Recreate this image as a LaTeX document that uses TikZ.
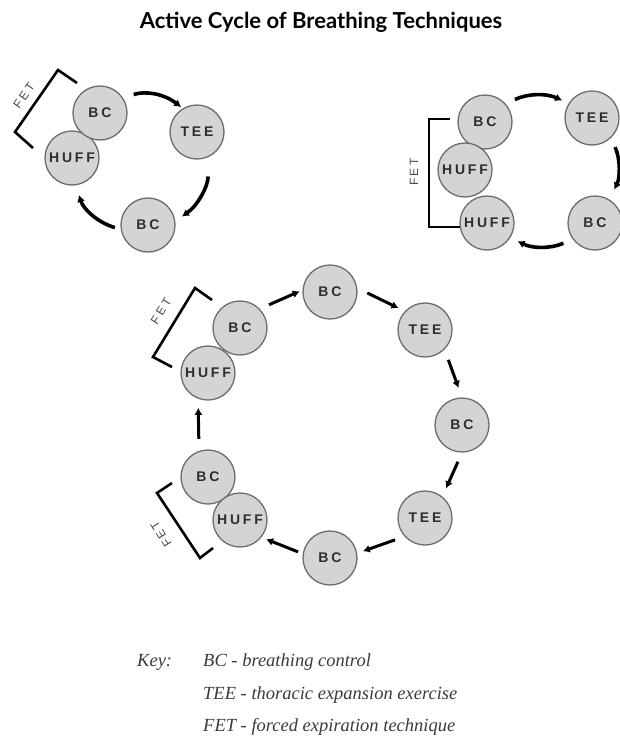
\documentclass[tikz,border=0pt]{standalone}
\usepackage{fontspec}
\setmainfont{Liberation Serif}
\newfontfamily\titlefont{Lato}
\newfontfamily\stagefont{Liberation Sans}[LetterSpace=20]
\newfontfamily\fetfont{Liberation Sans}[LetterSpace=22]
\usetikzlibrary{arrows.meta}

\definecolor{discgray}{HTML}{D4D4D4}
\definecolor{ringgray}{HTML}{6C6C6C}
\definecolor{labelgray}{HTML}{2E2E2E}
\definecolor{fetgray}{HTML}{4A4A4A}
\definecolor{keygray}{HTML}{3A3A3A}

\tikzset{
  stage/.style={circle, draw=ringgray, line width=1.3pt, fill=discgray,
    minimum size=54pt, inner sep=0pt, text=labelgray,
    font=\stagefont\bfseries\fontsize{14}{14}\selectfont},
  flow/.style={line width=3pt, -{Latex[length=7pt,width=8pt]}},
  curvedflow/.style={line width=3.6pt, -{Latex[length=7pt,width=8pt]}},
  fetbracket/.style={line width=2.6pt, line join=miter},
  fetlabel/.style={text=fetgray, inner sep=0pt,
    font=\fetfont\fontsize{12}{12}\selectfont},
  keytext/.style={text=keygray, inner sep=0pt, anchor=base west,
    font=\itshape\fontsize{18.5}{18.5}\selectfont}
}

\begin{document}
\begin{tikzpicture}[x=1pt, y=1pt]
\useasboundingbox (0,0) rectangle (620,-742);

% title
\node[anchor=base, inner sep=0pt, text=black,
      font=\titlefont\bfseries\fontsize{22}{22}\selectfont]
  (title) at (321,-28) {Active Cycle of Breathing Techniques};

% ---- short cycle, upper left ----
\node[stage] (huffA) at (72,-158) {HUFF};
\node[stage] (bcA)   at (100,-113) {BC};
\node[stage] (teeA)  at (197,-132) {TEE};
\node[stage] (bcB)   at (148,-225) {BC};

\draw[curvedflow, shorten <=11pt, shorten >=2pt]
  (bcA.33) to[bend left=28] (teeA.121);
\draw[curvedflow, shorten <=19pt, shorten >=8pt]
  (teeA.-67) to[bend left=28] (bcB.8);
\draw[curvedflow, shorten <=6pt, shorten >=10pt]
  (bcB.-171) to[bend left=28] (huffA.-82);

\draw[fetbracket] (77,-83) -- (58,-70) -- (15,-132) -- (33,-148);
\node[fetlabel, rotate=55] (fetA) at (24,-96) {FET};

% ---- cycle with two huffs, upper right ----
\node[stage] (bcC)   at (485,-122) {BC};
\node[stage] (huffC) at (465,-170) {HUFF};
\node[stage] (huffD) at (487,-223) {HUFF};
\node[stage] (teeC)  at (592,-118) {TEE};
\node[stage] (bcD)   at (595,-223) {BC};

\draw[curvedflow, shorten <=10pt, shorten >=7pt]
  (bcC.41) to[bend left=25] (teeC.148);
\draw[curvedflow, shorten <=10pt, shorten >=11pt]
  (teeC.-46) to[bend left=25] (bcD.59);
\draw[curvedflow, shorten <=10pt, shorten >=8pt]
  (bcD.-144) to[bend left=25] (huffD.-32);

\draw[fetbracket] (450,-119) -- (429,-119) -- (429,-227) -- (460,-227);
\node[fetlabel, rotate=90] (fetC) at (414,-172) {FET};

% ---- long cycle ----
\node[stage] (bc1)   at (330,-292) {BC};
\node[stage] (tee1)  at (425,-330) {TEE};
\node[stage] (bc2)   at (462,-425) {BC};
\node[stage] (tee2)  at (425,-518) {TEE};
\node[stage] (bc3)   at (330,-558) {BC};
\node[stage] (bc4)   at (208,-477) {BC};
\node[stage] (huff1) at (240,-520) {HUFF};
\node[stage] (huff2) at (208,-373) {HUFF};
\node[stage] (bc5)   at (240,-328) {BC};

\draw[flow, shorten <=10pt, shorten >=3pt]  (bc5.44)   -- (bc1.176);
\draw[flow, shorten <=11pt, shorten >=7pt]  (bc1.8)    -- (tee1.137);
\draw[flow, shorten <=11pt, shorten >=10pt] (tee1.-45) -- (bc2.90);
\draw[flow, shorten <=10pt, shorten >=9pt]  (bc2.-90)  -- (tee2.51);
\draw[flow, shorten <=10pt, shorten >=6pt]  (tee2.-138) -- (bc3.10);
\draw[flow, shorten <=5pt, shorten >=5pt]   (bc3.171)  -- (huff1.-39);
\draw[flow, shorten <=12pt, shorten >=9pt]  (bc4.109)  -- (huff2.-111);

\draw[fetbracket] (212,-300) -- (195,-288) -- (153,-357) -- (172,-367);
\node[fetlabel, rotate=58] (fet1) at (161,-311) {FET};

\draw[fetbracket] (172,-483) -- (157,-493) -- (200,-558) -- (213,-548);
\node[fetlabel, rotate=123] (fet2) at (161,-534) {FET};

% ---- key ----
\node[keytext] (keyhead) at (137,-666) {Key:};
\node[keytext] (key1) at (203,-666) {BC - breathing control};
\node[keytext] (key2) at (203,-699) {TEE - thoracic expansion exercise};
\node[keytext] (key3) at (203,-731) {FET - forced expiration technique};
\end{tikzpicture}
\end{document}
